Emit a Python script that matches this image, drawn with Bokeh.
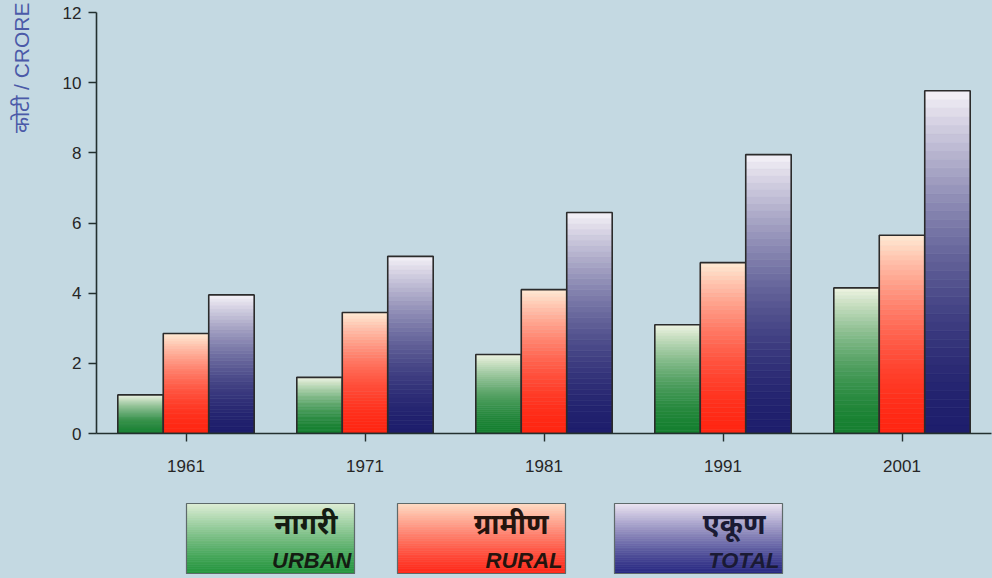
from bokeh.plotting import figure
from bokeh.models import ColumnDataSource, Range1d, FactorRange, Title, FixedTicker
from bokeh.transform import dodge
from bokeh.layouts import column
from bokeh.core.properties import value
from bokeh.embed import file_html
from bokeh.resources import INLINE

# ---- data ----
years = ["1961", "1971", "1981", "1991", "2001"]
urban = [1.1, 1.6, 2.25, 3.1, 4.15]
rural = [2.85, 3.45, 4.1, 4.87, 5.65]
total = [3.95, 5.05, 6.3, 7.95, 9.77]
series_hi = ["नागरी", "ग्रामीण", "एकूण"]
series_en = ["URBAN", "RURAL", "TOTAL"]
y_ticks = [0, 2, 4, 6, 8, 10, 12]
y_label = "कोटी / CRORE"

# ---- styles ----
BG = "#c4d9e2"
AXIS = "#23302f"
BOTTOM_COLS = [(22, 128, 48), (255, 38, 18), (30, 30, 108)]
TOP_COLS = [(240, 244, 226), (255, 234, 212), (246, 242, 248)]
LEG_BOTTOM = [(36, 150, 62), (255, 40, 24), (40, 40, 130)]
LEG_TOP = [(222, 238, 214), (255, 220, 196), (236, 228, 242)]
GAMMA = 1.7
N = 40
BAR_W = 0.254
OFFSETS = [-BAR_W, 0.0, BAR_W]


def mix(c0, c1, t, g=GAMMA):
    t = t ** g
    r, gg, b = (int(round(c0[k] + (c1[k] - c0[k]) * t)) for k in range(3))
    return "#%02x%02x%02x" % (r, gg, b)


p = figure(width=992, height=490, x_range=FactorRange(*years), y_range=Range1d(0, 12),
           output_backend="svg", toolbar_location=None,
           background_fill_color=None, border_fill_color=BG, outline_line_color=None,
           min_border_left=96, min_border_right=1, min_border_top=12, min_border_bottom=57)
p.grid.visible = False

for s, vals in enumerate([urban, rural, total]):
    xs, bots, tops, cols = [], [], [], []
    for yr, v in zip(years, vals):
        for i in range(N):
            xs.append(yr)
            bots.append(v * i / N)
            tops.append(v * (i + 1) / N)
            cols.append(mix(BOTTOM_COLS[s], TOP_COLS[s], (i + 0.5) / N))
    src = ColumnDataSource(dict(x=xs, bottom=bots, top=tops, color=cols))
    p.vbar(x=dodge("x", OFFSETS[s], range=p.x_range), bottom="bottom", top="top",
           width=BAR_W, fill_color="color", line_color="color", line_width=0.6, source=src)
    osrc = ColumnDataSource(dict(x=years, top=vals))
    p.vbar(x=dodge("x", OFFSETS[s], range=p.x_range), top="top", bottom=0,
           width=BAR_W, fill_alpha=0, line_color="#2b2b2b", line_width=1.6, source=osrc)

for ax in (p.xaxis[0], p.yaxis[0]):
    ax.axis_line_color = AXIS
    ax.axis_line_width = 1.6
    ax.major_tick_line_color = AXIS
    ax.major_tick_line_width = 1.4
    ax.major_tick_out = 8
    ax.major_tick_in = 0
    ax.minor_tick_line_color = None
    ax.major_label_text_font = "Liberation Sans"
    ax.major_label_text_font_size = "17px"
    ax.major_label_text_color = "#262626"

p.xaxis.major_label_standoff = 18
p.yaxis.major_label_standoff = 7
p.yaxis.ticker = FixedTicker(ticks=y_ticks)

# second (blank) line pushes the caption away from the axis, as in the reference
t = Title(text=y_label + "\n ", align="right", text_color="#4b5aa8", text_font_size="21px",
          text_font_style="normal", text_font="Liberation Sans", standoff=8, offset=-10)
p.add_layout(t, "left")

# ---- legend figure ----
lg = figure(width=992, height=88, x_range=Range1d(96, 991), y_range=Range1d(0, 88),
            output_backend="svg", toolbar_location=None, x_axis_location=None, y_axis_location=None,
            background_fill_color=None, border_fill_color=BG, outline_line_color=None,
            min_border_left=96, min_border_right=1, min_border_top=0, min_border_bottom=0)
lg.grid.visible = False

BOX_X = [186, 397, 614]
BOX_W = 168
BOX_Y0, BOX_Y1 = 5, 75
TXT_COLS = ["#141c12", "#24140e", "#1a1a34"]
for s in range(3):
    l, r = BOX_X[s], BOX_X[s] + BOX_W
    qb, qt, qc = [], [], []
    for i in range(N):
        y0 = BOX_Y0 + (BOX_Y1 - BOX_Y0) * i / N
        y1 = BOX_Y0 + (BOX_Y1 - BOX_Y0) * (i + 1) / N
        qb.append(y0)
        qt.append(y1)
        qc.append(mix(LEG_BOTTOM[s], LEG_TOP[s], (i + 0.5) / N, 1.2))
    lg.quad(left=[l] * N, right=[r] * N, bottom=qb, top=qt, fill_color=qc, line_color=qc, line_width=0.6)
    lg.quad(left=[l], right=[r], bottom=[BOX_Y0], top=[BOX_Y1], fill_alpha=0,
            line_color="#5e6a6a", line_width=1.2)
    lg.text(x=[r - 17], y=[56], text=[series_hi[s]], text_align="right", text_baseline="alphabetic",
            text_font=value("Noto Sans"), text_font_style="bold italic", text_font_size="28px",
            text_color=TXT_COLS[s])
    lg.text(x=[r - 3], y=[18], text=[series_en[s]], text_align="right", text_baseline="alphabetic",
            text_font=value("Liberation Sans"), text_font_style="bold italic", text_font_size="22px",
            text_color=TXT_COLS[s])

layout = column(p, lg, spacing=0, styles={"background-color": BG})
open("out.html", "w").write(file_html(layout, INLINE))
